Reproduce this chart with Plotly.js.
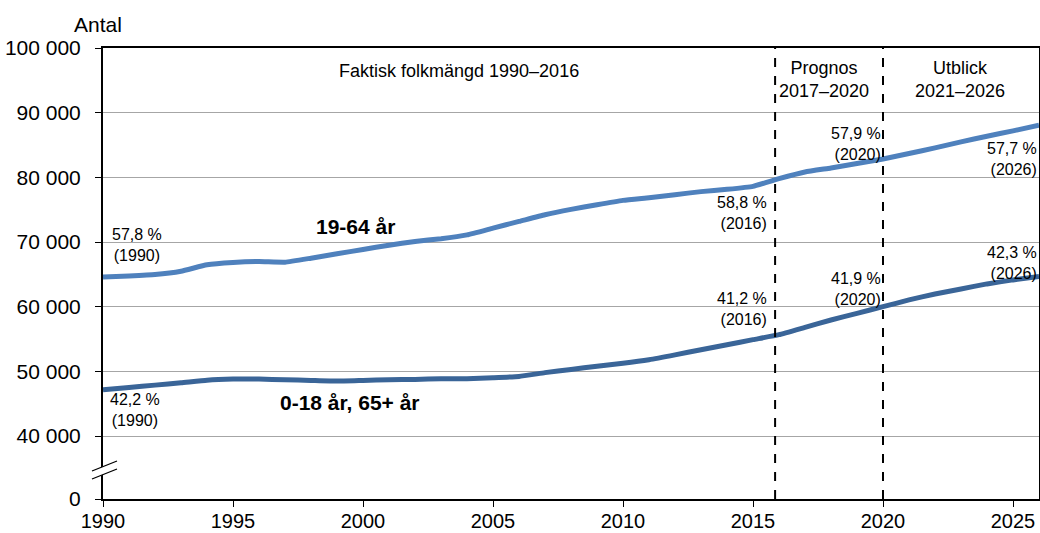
<!DOCTYPE html>
<html>
<head>
<meta charset="utf-8">
<script src="https://cdn.plot.ly/plotly-3.0.1.min.js"></script>
<style>html,body{margin:0;padding:0;background:#fff;}#chart{width:1040px;height:533px;}</style>
</head>
<body>
<div id="chart"></div>
<script>
// Data
const years = [1990,1991,1992,1993,1994,1995,1996,1997,1998,1999,2000,2001,2002,2003,2004,2005,2006,2007,2008,2009,2010,2011,2012,2013,2014,2015,2016,2017,2018,2019,2020,2021,2022,2023,2024,2025,2026];
const age19to64 = [64600,64760,64970,65480,66470,66830,66980,66880,67500,68180,68850,69510,70090,70500,71100,72150,73180,74220,75050,75770,76440,76860,77320,77790,78150,78610,79800,80830,81450,82130,82840,83680,84550,85480,86360,87180,88070];
const age0to18and65plus = [47150,47510,47870,48230,48640,48800,48800,48700,48590,48490,48590,48700,48750,48850,48850,49000,49210,49800,50300,50800,51250,51800,52550,53350,54120,54900,55670,56800,57940,58970,60000,61040,61970,62740,63520,64140,64650];
const yTickVals = [30260,40000,50000,60000,70000,80000,90000,100000];
const yTickText = ["0","40 000","50 000","60 000","70 000","80 000","90 000","100 000"];
const xTickVals = [1990,1995,2000,2005,2010,2015,2020,2025];
const seriesNames = ["19-64 år","0-18 år, 65+ år"];
const periodBounds = [2015.85, 2020];

const FONT = "Liberation Sans, Arial, sans-serif";

const traces = [
  {x: years, y: age19to64, type: "scatter", mode: "lines", name: seriesNames[0],
   line: {color: "#4F81BD", width: 5, shape: "spline", smoothing: 0.4}, hoverinfo: "skip"},
  {x: years, y: age0to18and65plus, type: "scatter", mode: "lines", name: seriesNames[1],
   line: {color: "#3A6598", width: 5, shape: "spline", smoothing: 0.4}, hoverinfo: "skip"}
];

function ann(text, x, y, size, opts) {
  return Object.assign({text: text, x: x, y: y, xref: "x", yref: "y", showarrow: false,
    font: {family: FONT, size: size, color: "#000"}, xanchor: "center", yanchor: "middle", align: "center"}, opts || {});
}

const annotations = [
  ann("57,8 %<br>(1990)", 1991.31, 69465, 16),
  ann("42,2 %<br>(1990)", 1991.23, 44045, 16),
  ann("58,8 %<br>(2016)", 2015.62, 74425, 16, {xanchor: "right", align: "right"}),
  ann("41,2 %<br>(2016)", 2015.62, 59700, 16, {xanchor: "right", align: "right"}),
  ann("57,9 %<br>(2020)", 2020.0, 85120, 16, {xanchor: "right", align: "right"}),
  ann("41,9 %<br>(2020)", 2020.0, 62800, 16, {xanchor: "right", align: "right"}),
  ann("57,7 %<br>(2026)", 2026.0, 82795, 16, {xanchor: "right", align: "right"}),
  ann("42,3 %<br>(2026)", 2026.0, 66830, 16, {xanchor: "right", align: "right"}),
  ann("<b>" + seriesNames[0] + "</b>", 1999.73, 72410, 21),
  ann("<b>" + seriesNames[1] + "</b>", 1999.5, 45130, 21),
  ann("Faktisk folkmängd 1990–2016", 2003.69, 96435, 18),
  ann("Prognos<br>2017–2020", 2017.73, 95200, 18),
  ann("Utblick<br>2021–2026", 2022.96, 95200, 18),
  {text: "Antal", xref: "paper", yref: "paper", x: -0.0053, y: 1.051, showarrow: false,
   font: {family: FONT, size: 21, color: "#000"}, xanchor: "center", yanchor: "middle"}
];

const shapes = periodBounds.map(v => ({type: "line", xref: "x", yref: "paper", x0: v, x1: v, y0: 0, y1: 1,
  line: {color: "#000", width: 2, dash: "dash"}, layer: "above"}));

// axis break marks (paper coordinates)
const px = p => (p - 103) / 936;
const py = p => (499 - p) / 451;
shapes.push({type: "path", xref: "paper", yref: "paper",
  path: `M ${px(92)} ${py(479)} L ${px(117)} ${py(469)} L ${px(117)} ${py(461)} L ${px(92)} ${py(471)} Z`,
  fillcolor: "#fff", line: {width: 0}, layer: "above"});
shapes.push({type: "line", xref: "paper", yref: "paper", x0: px(92), y0: py(479), x1: px(117), y1: py(469),
  line: {color: "#000", width: 1.2}, layer: "above"});
shapes.push({type: "line", xref: "paper", yref: "paper", x0: px(92), y0: py(471), x1: px(117), y1: py(461),
  line: {color: "#000", width: 1.2}, layer: "above"});

const layout = {
  width: 1040, height: 533,
  margin: {l: 103, r: 1, t: 48, b: 34},
  paper_bgcolor: "#fff", plot_bgcolor: "#fff",
  showlegend: false,
  font: {family: FONT, color: "#000"},
  xaxis: {range: [1990, 2026], tickvals: xTickVals, ticks: "outside", ticklen: 6, tickwidth: 1, tickcolor: "#000",
    showgrid: false, zeroline: false, showline: true, linecolor: "#000", linewidth: 2, mirror: true,
    tickfont: {family: FONT, size: 20, color: "#000"}, ticklabelstandoff: -3, fixedrange: true},
  yaxis: {range: [30260, 100000], tickvals: yTickVals, ticktext: yTickText, ticks: "outside", ticklen: 6, tickwidth: 1, tickcolor: "#000",
    showgrid: true, gridcolor: "#A6A6A6", gridwidth: 1, zeroline: false, showline: true, linecolor: "#000", linewidth: 2, mirror: true,
    tickfont: {family: FONT, size: 21, color: "#000"}, ticklabelstandoff: 10, fixedrange: true},
  annotations: annotations,
  shapes: shapes
};

Plotly.newPlot("chart", traces, layout, {displayModeBar: false, staticPlot: true});
</script>
</body>
</html>
